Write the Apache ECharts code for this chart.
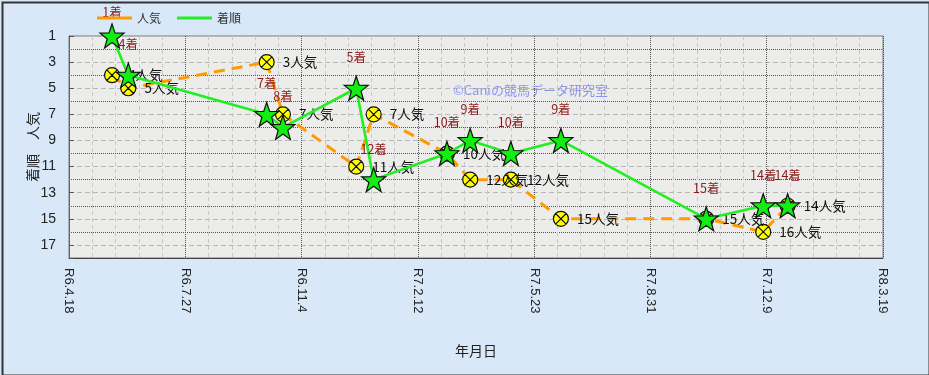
<!DOCTYPE html>
<html><head><meta charset="utf-8">
<script src="https://cdn.jsdelivr.net/npm/echarts@6/dist/echarts.min.js"></script>
<style>html,body{margin:0;padding:0;background:#d8e8f8}#c{width:929px;height:375px}</style>
</head><body><div id="c"></div>
<script>
// ---- data ----
const raceDates = ['2024-05-25','2024-06-08','2024-10-05','2024-10-19','2024-12-21','2025-01-05','2025-03-09','2025-03-29','2025-05-03','2025-06-15','2025-10-18','2025-12-06','2025-12-27'];
const finishPos = [1,4,7,8,5,12,10,9,10,9,15,14,14];
const popularity = [4,5,3,7,11,7,10,12,12,15,15,16,14];
const xTickLabels = ['R6.4.18','R6.7.27','R6.11.4','R7.2.12','R7.5.23','R7.8.31','R7.12.9','R8.3.19'];
const yTickLabels = ['1','3','5','7','9','11','13','15','17'];
const xStart = '2024-04-18', xEnd = '2026-03-19';

const DAY = 86400000;
const toT = s => { const [y,m,d] = s.split('-').map(Number); return Date.UTC(y, m-1, d); };

// star symbol
let star = 'path://';
for (let i = 0; i < 10; i++) {
  const a = -Math.PI/2 + i*Math.PI/5, r = i % 2 ? 0.4 : 1;
  star += (i ? 'L' : 'M') + (r*Math.cos(a)*10).toFixed(3) + ',' + (r*Math.sin(a)*10).toFixed(3);
}
star += 'Z';
const circX = 'path://M0,-10A10,10 0 1,1 0,10A10,10 0 1,1 0,-10ZM-7.07,-7.07L7.07,7.07M7.07,-7.07L-7.07,7.07';

const jp = '"Noto Sans CJK JP", sans-serif';
const orange = '#ff9a00', green = '#22ee22';
const chart = echarts.init(document.getElementById('c'));
chart.setOption({
  backgroundColor: '#d8e8f8',
  animation: false,
  grid: { left: 69, right: 46, top: 36, bottom: 117, show: true, backgroundColor: '#ececea', borderColor: '#777', borderWidth: 1 },
  legend: {
    left: 92, top: 7, itemWidth: 35, itemHeight: 3, itemGap: 16, icon: 'rect',
    textStyle: { fontFamily: jp, fontSize: 12, color: '#333' },
    data: [
      { name: '人気', itemStyle: { color: orange, borderWidth: 0 } },
      { name: '着順', itemStyle: { color: green, borderWidth: 0 } }
    ]
  },
  xAxis: {
    type: 'value', min: toT(xStart), max: toT(xEnd), interval: 100*DAY,
    axisLine: { lineStyle: { color: '#444' } },
    axisTick: { show: false },
    axisLabel: { rotate: -90, margin: 10, fontFamily: 'Liberation Sans', fontSize: 13, color: '#222',
      formatter: (v, i) => xTickLabels[i] ?? '' },
    splitLine: { lineStyle: { color: '#555', type: 'dotted', width: 1 } },
    minorTick: { show: false, splitNumber: 5 },
    minorSplitLine: { show: true, lineStyle: { color: '#c8c8c8', type: [4,3], width: 1 } },
    name: '年月日', nameLocation: 'middle', nameGap: 86, nameMoveOverlap: false,
    nameTextStyle: { fontFamily: jp, fontSize: 14, color: '#222' }
  },
  yAxis: [{
    type: 'value', inverse: true, min: 1, max: 18, interval: 2,
    axisLine: { show: true, lineStyle: { color: '#666' } },
    axisTick: { show: true, inside: true, length: 5, lineStyle: { color: '#555' } },
    axisLabel: { margin: 13, fontFamily: 'Liberation Sans', fontSize: 14, color: '#222',
      formatter: (v, i) => yTickLabels[i] ?? '' },
    splitLine: { lineStyle: { color: '#b8b8b8', type: [5,3], width: 1 } },
    name: '着順　人気', nameLocation: 'middle', nameGap: 29, nameRotate: 90, nameMoveOverlap: false,
    nameTextStyle: { fontFamily: jp, fontSize: 14, color: '#222' }
  }, {
    type: 'value', inverse: true, min: 1, max: 18, interval: 1, position: 'left',
    axisLine: { show: false }, axisTick: { show: false }, axisLabel: { show: false },
    splitLine: { show: true, lineStyle: { color: ['rgba(0,0,0,0)', '#555'], type: 'dotted', width: 1 } }
  }],
  graphic: [
    { type: 'text', left: 453, top: 84, z: 1, style: { text: '©Caniの競馬データ研究室', fill: '#8c96f2', font: '13px ' + jp } },
    { type: 'rect', left: 0, top: 0, z: 100, silent: true, shape: { width: 927, height: 373 },
      style: { fill: 'none', stroke: '#333', lineWidth: 2 }, position: [1, 1] }
  ],
  series: [{
    name: '人気', type: 'line', z: 2,
    data: raceDates.map((d, i) => [toT(d), popularity[i]]),
    symbol: circX, symbolSize: 15,
    itemStyle: { color: '#ffff00', borderColor: '#111', borderWidth: 1.2 },
    lineStyle: { color: orange, width: 3, type: [11, 7] },
    color: orange,
    label: { show: true, position: 'right', distance: 8, fontFamily: jp, fontSize: 13.5, color: '#111',
      formatter: p => p.value[1] + '人気' }
  }, {
    name: '着順', type: 'line', z: 3,
    data: raceDates.map((d, i) => ({ value: [toT(d), finishPos[i]], label: i === 0 ? { distance: 5 } : undefined })),
    symbol: star, symbolSize: 24,
    itemStyle: { color: '#11ee11', borderColor: '#111', borderWidth: 1.2 },
    lineStyle: { color: green, width: 2.6 },
    color: green,
    label: { show: true, position: 'top', distance: 12, fontFamily: jp, fontSize: 12.5, color: '#8b1a1a',
      formatter: p => p.value[1] + '着' }
  }]
});
</script></body></html>
